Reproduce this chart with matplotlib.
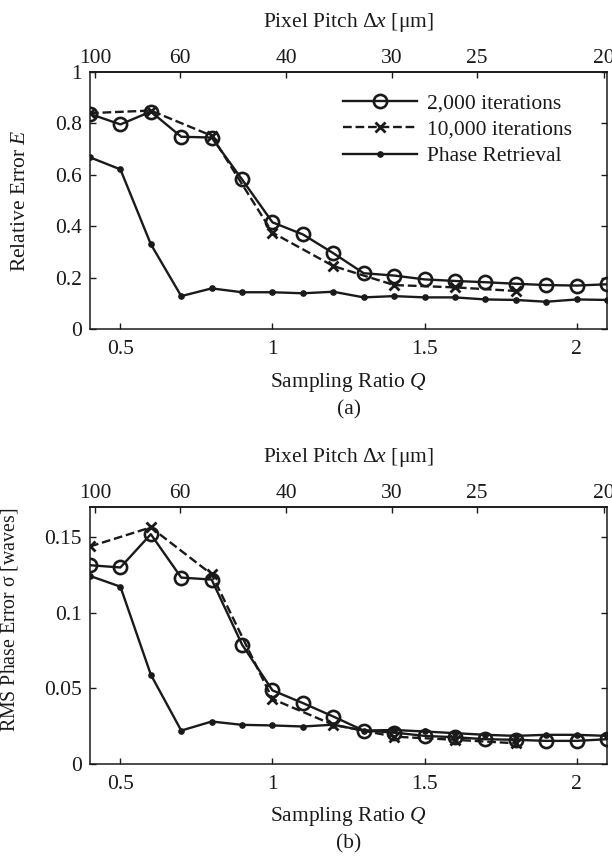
import matplotlib
matplotlib.use("Agg")
import matplotlib.pyplot as plt
import numpy as np

plt.rcParams['font.family'] = ['Liberation Serif', 'DejaVu Serif']
plt.rcParams['mathtext.fontset'] = 'custom'
plt.rcParams['mathtext.rm'] = 'Liberation Serif'
plt.rcParams['mathtext.it'] = 'Liberation Serif:italic'

# ---- data ----
Q_all = [0.4, 0.5, 0.6, 0.7, 0.8, 0.9, 1.0, 1.1, 1.2, 1.3, 1.4, 1.5, 1.6, 1.7, 1.8, 1.9, 2.0, 2.1]
Q_10k = [0.4, 0.6, 0.8, 1.0, 1.2, 1.4, 1.6, 1.8]

err_2k = [0.837, 0.796, 0.846, 0.748, 0.745, 0.582, 0.415, 0.368, 0.295, 0.217, 0.208, 0.193,
          0.187, 0.182, 0.176, 0.171, 0.169, 0.174]
err_10k = [0.840, 0.850, 0.752, 0.375, 0.245, 0.171, 0.162, 0.148]
err_pr = [0.668, 0.621, 0.330, 0.128, 0.158, 0.143, 0.143, 0.139, 0.145, 0.123, 0.128, 0.123,
          0.123, 0.115, 0.113, 0.106, 0.115, 0.113]

rms_2k = [0.1315, 0.130, 0.152, 0.1233, 0.122, 0.079, 0.0487, 0.0403, 0.0314, 0.0221, 0.0208,
          0.0186, 0.0177, 0.0164, 0.016, 0.0153, 0.0153, 0.0164]
rms_10k = [0.1439, 0.1565, 0.1255, 0.043, 0.0259, 0.0181, 0.016, 0.0137]
rms_pr = [0.1244, 0.1173, 0.0591, 0.0221, 0.0281, 0.0259, 0.0255, 0.0248, 0.026, 0.0221, 0.0225,
          0.0215, 0.0204, 0.0193, 0.0186, 0.0193, 0.0193, 0.0186]

pitch_ticks = [100, 60, 40, 30, 25, 20]
pitch_const = 41.8  # pixel pitch [um] = const / Q

col = '#1a1a1a'
FS = 15.5

fig = plt.figure(figsize=(6.12, 8.57), dpi=100)
W, H = 612, 857

def make_ax(top_px, bot_px):
    l, r = 90, 607
    return fig.add_axes([l / W, 1 - bot_px / H, (r - l) / W, (bot_px - top_px) / H])

ax1 = make_ax(72, 329)
ax2 = make_ax(507, 764)

def style(ax, ylim, yticks, yticklabels, ylabel, ylfs):
    ax.set_xlim(0.4, 2.1)
    ax.set_ylim(*ylim)
    ax.set_xticks([0.5, 1.0, 1.5, 2.0])
    ax.set_xticklabels(['0.5', '1', '1.5', '2'])
    ax.set_yticks(yticks)
    ax.set_yticklabels(yticklabels)
    ax.tick_params(axis='x', direction='in', length=4, width=1, labelsize=FS, pad=8, colors=col)
    ax.tick_params(axis='y', direction='in', length=4, width=1, labelsize=FS, pad=6, right=True, colors=col)
    for s in ax.spines.values():
        s.set_linewidth(1.1)
        s.set_color(col)
    ax.set_ylabel(ylabel, fontsize=ylfs, color=col)
    sec = ax.secondary_xaxis('top', functions=(lambda q: pitch_const / q, lambda p: pitch_const / p))
    sec.set_xticks(pitch_ticks)
    sec.set_xticklabels([str(p) for p in pitch_ticks])
    sec.tick_params(direction='in', length=4, width=1, labelsize=FS, pad=3, colors=col)
    sec.minorticks_off()
    sec.set_xlabel(r'Pixel Pitch $\Delta x$ [$\mathrm{\mu}$m]', fontsize=FS, labelpad=16, color=col)
    sec.spines['top'].set_linewidth(1.1)
    return sec

def plot_series(ax, y2k, y10k, ypr):
    ax.plot(Q_all, y2k, '-', color=col, lw=1.7, marker='o', ms=9.5, mfc='none', mec=col, mew=1.9,
            label='2,000 iterations', zorder=3)
    ax.plot(Q_10k, y10k, '--', color=col, lw=1.7, marker='x', ms=7, mec=col, mew=2.0,
            label='10,000 iterations', zorder=2)
    ax.plot(Q_all, ypr, '-', color=col, lw=1.7, marker='o', ms=3.8, mfc=col, mec=col,
            label='Phase Retrieval', zorder=4)

plot_series(ax1, err_2k, err_10k, err_pr)
plot_series(ax2, rms_2k, rms_10k, rms_pr)

style(ax1, (0, 1), [0, 0.2, 0.4, 0.6, 0.8, 1.0], ['0', '0.2', '0.4', '0.6', '0.8', '1'],
      r'Relative Error $\mathit{E}$', FS)
style(ax2, (0, 0.17), [0, 0.05, 0.1, 0.15], ['0', '0.05', '0.1', '0.15'],
      r'RMS Phase Error $\mathrm{\sigma}$ [waves]', 14.3)

ax1.yaxis.set_label_coords(-0.116, 0.5)
ax2.yaxis.set_label_coords(-0.136, 0.56)

leg = ax1.legend(loc='upper left', bbox_to_anchor=(0.489, 0.915), frameon=False, fontsize=FS,
                 handlelength=3.45, handletextpad=0.45, labelspacing=0.28, borderpad=0, borderaxespad=0)
for t in leg.get_texts():
    t.set_color(col)

# x labels and panel tags
cx = (90 + 607) / 2 / W
fig.text(cx, 1 - 383 / H, r'Sampling Ratio $\mathit{Q}$', ha='center', va='center', fontsize=FS, color=col)
fig.text(cx, 1 - 410 / H, '(a)', ha='center', va='center', fontsize=FS, color=col)
fig.text(cx, 1 - 817 / H, r'Sampling Ratio $\mathit{Q}$', ha='center', va='center', fontsize=FS, color=col)
fig.text(cx, 1 - 844 / H, '(b)', ha='center', va='center', fontsize=FS, color=col)

fig.savefig('out.png', dpi=100)
